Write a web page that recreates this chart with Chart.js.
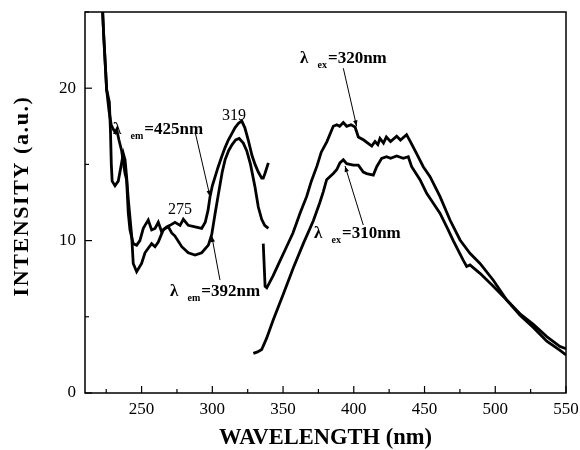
<!DOCTYPE html>
<html>
<head>
<meta charset="utf-8">
<script src="https://cdn.jsdelivr.net/npm/chart.js@4.4.1/dist/chart.umd.min.js"></script>
<style>
  html, body { margin: 0; padding: 0; background: #fff; }
  #wrap { width: 580px; height: 450px; }
</style>
</head>
<body>
<div id="wrap"><canvas id="chart" width="580" height="450"></canvas></div>
<script>
// ---------- data ----------
// excitation spectrum, monitored at 425 nm
const em425Nm = [222.0, 223.2, 225.3, 227.2, 228.0, 228.6, 229.2, 231.2, 233.5, 235.9, 237.1, 238.3, 239.4, 240.6, 243.0, 244.1, 246.5, 250.0, 252.4, 254.7, 257.1, 259.5, 261.8, 265.3, 267.7, 270.1, 273.6, 277.2, 279.5, 283.0, 287.8, 292.5, 295.0, 297.0, 298.4, 300.0, 302.0, 304.0, 306.6, 309.0, 311.3, 313.7, 316.0, 318.5, 320.8, 323.0, 325.4, 328.0, 330.2, 332.5, 334.9, 336.0, 337.2, 339.6];
const em425Int = [26, 23.5, 19.9, 19.1, 17.2, 15.0, 13.9, 13.6, 13.9, 15.1, 15.7, 15.3, 14.2, 12.7, 10.3, 8.5, 7.96, 8.5, 9.2, 9.5, 9.8, 9.6, 9.9, 10.7, 10.9, 11.0, 11.2, 11.0, 11.4, 11.0, 10.9, 10.8, 11.2, 12.0, 12.9, 13.6, 14.2, 14.8, 15.5, 16.1, 16.6, 17.0, 17.4, 17.7, 17.85, 17.4, 16.6, 15.6, 15.0, 14.5, 14.1, 14.1, 14.4, 15.1];

// excitation spectrum, monitored at 392 nm
const em392Nm = [222.0, 223.2, 225.3, 227.0, 228.5, 230.0, 231.5, 232.5, 234.0, 235.9, 237.0, 238.3, 239.4, 240.6, 241.8, 244.1, 246.5, 248.8, 251.2, 252.4, 254.7, 257.1, 259.5, 261.8, 264.1, 266.5, 268.9, 271.3, 273.6, 278.4, 283.0, 287.8, 292.5, 297.2, 299.6, 302.0, 304.2, 307.0, 309.0, 311.5, 314.0, 316.5, 319.0, 321.9, 324.3, 327.0, 330.2, 332.5, 334.9, 337.0, 339.6];
const em392Int = [26, 23.5, 19.9, 18.5, 17.6, 17.3, 17.1, 17.25, 16.6, 15.9, 15.2, 14.4, 14.0, 11.8, 10.7, 9.8, 9.7, 10.0, 10.8, 11.0, 11.35, 10.7, 10.8, 11.2, 10.6, 10.8, 10.9, 10.5, 10.3, 9.6, 9.2, 9.05, 9.2, 9.7, 10.4, 11.8, 13.0, 14.5, 15.3, 15.9, 16.3, 16.6, 16.7, 16.4, 15.9, 15.0, 13.5, 12.2, 11.4, 11.0, 10.8];

// emission spectrum, excited at 320 nm
const ex320Nm = [336.0, 337.3, 338.5, 343.0, 347.0, 352.0, 357.0, 362.0, 366.7, 370.0, 374.0, 377.0, 381.0, 385.5, 388.0, 390.0, 392.6, 395.0, 398.0, 400.9, 403.2, 407.0, 412.7, 415.0, 417.0, 418.5, 421.0, 423.0, 426.0, 430.3, 433.0, 437.3, 440.0, 444.4, 449.1, 453.9, 460.9, 468.0, 475.1, 482.1, 489.2, 498.6, 508.1, 517.5, 526.9, 536.4, 545.8, 550.0];
const ex320Int = [9.8, 7.0, 6.9, 7.7, 8.5, 9.5, 10.5, 11.8, 12.9, 13.9, 14.9, 15.8, 16.5, 17.5, 17.6, 17.5, 17.75, 17.5, 17.6, 17.45, 16.8, 16.6, 16.2, 16.5, 16.3, 16.7, 16.4, 16.8, 16.5, 16.85, 16.6, 16.95, 16.5, 15.7, 14.85, 14.2, 12.9, 11.35, 10.04, 9.17, 8.5, 7.4, 6.1, 5.2, 4.5, 3.7, 3.05, 2.9];

// emission spectrum, excited at 310 nm
const ex310Nm = [329.0, 332.0, 334.9, 338.4, 343.1, 350.2, 357.2, 364.3, 371.4, 376.0, 378.4, 380.8, 385.5, 387.9, 390.2, 392.6, 395.0, 399.7, 403.2, 406.7, 409.1, 413.8, 416.2, 419.7, 423.2, 426.0, 430.3, 435.0, 438.5, 440.9, 446.8, 451.5, 456.2, 460.9, 465.7, 470.3, 477.4, 479.8, 482.1, 489.2, 498.6, 508.1, 517.5, 526.9, 536.4, 545.8, 550.0];
const ex310Int = [2.6, 2.7, 2.85, 3.6, 4.8, 6.5, 8.2, 9.8, 11.3, 12.5, 13.2, 14.0, 14.4, 14.65, 15.1, 15.3, 15.05, 14.95, 14.95, 14.5, 14.4, 14.3, 14.85, 15.4, 15.5, 15.4, 15.55, 15.4, 15.5, 14.85, 14.0, 13.1, 12.45, 11.8, 10.9, 10.0, 8.7, 8.3, 8.4, 7.85, 7.0, 6.1, 5.1, 4.3, 3.4, 2.8, 2.5];

const xTicks = [250, 300, 350, 400, 450, 500, 550];
const xMinor = [225, 275, 325, 375, 425, 475, 525];
const yTicks = [0, 10, 20];
const yMinor = [5, 15, 25];

// ---------- annotations (data coords) ----------
const notes = [
  { sub: "em", rest: "=425nm", at: [229.8, 17.39], from: [287.8, 17.14], to: [298.4, 12.88] },
  { sub: "em", rest: "=392nm", at: [270.1, 6.76], from: [305.4, 7.41], to: [299.6, 10.3] },
  { sub: "ex", rest: "=320nm", at: [362.0, 22.07], from: [392.6, 21.31], to: [402.0, 17.5] },
  { sub: "ex", rest: "=310nm", at: [371.9, 10.58], from: [406.7, 11.02], to: [393.8, 14.9] },
];
const peakLabels = [
  { text: "319", at: [315.3, 18.2] },
  { text: "275", at: [277.2, 12.0] },
];

// ---------- helpers ----------
const serif = '"Liberation Serif", "Times New Roman", serif';
const toPoints = (xs, ys) => xs.map((x, i) => ({ x, y: ys[i] }));
const curve = (label, xs, ys) => ({
  label,
  data: toPoints(xs, ys),
  borderColor: "#000",
  borderWidth: 2.8,
  pointRadius: 0,
  tension: 0,
  fill: false,
});
const noPad = (ax) => {
  ax.paddingLeft = 0; ax.paddingRight = 0;
  ax.paddingTop = 0; ax.paddingBottom = 0;
};

function arrow(ctx, x1, y1, x2, y2) {
  ctx.beginPath();
  ctx.moveTo(x1, y1);
  ctx.lineTo(x2, y2);
  ctx.stroke();
  const a = Math.atan2(y2 - y1, x2 - x1);
  const len = 6, w = 2.2;
  ctx.beginPath();
  ctx.moveTo(x2, y2);
  ctx.lineTo(x2 - len * Math.cos(a) + w * Math.sin(a), y2 - len * Math.sin(a) - w * Math.cos(a));
  ctx.lineTo(x2 - len * Math.cos(a) - w * Math.sin(a), y2 - len * Math.sin(a) + w * Math.cos(a));
  ctx.closePath();
  ctx.fill();
}

// frame, inward ticks, y title and the text labels
const framePlugin = {
  id: "frame",
  afterDraw(chart) {
    const { ctx, chartArea: a, scales: { x, y } } = chart;
    ctx.save();
    ctx.strokeStyle = "#000";
    ctx.fillStyle = "#000";
    ctx.lineWidth = 1.5;
    ctx.strokeRect(a.left, a.top, a.right - a.left, a.bottom - a.top);

    ctx.lineWidth = 1.2;
    const tick = (x1, y1, x2, y2) => {
      ctx.beginPath(); ctx.moveTo(x1, y1); ctx.lineTo(x2, y2); ctx.stroke();
    };
    xTicks.forEach((v) => { const p = x.getPixelForValue(v); tick(p, a.bottom, p, a.bottom - 7); });
    xMinor.forEach((v) => { const p = x.getPixelForValue(v); tick(p, a.bottom, p, a.bottom - 4); });
    yTicks.forEach((v) => { const p = y.getPixelForValue(v); tick(a.left, p, a.left + 7, p); });
    yMinor.forEach((v) => { const p = y.getPixelForValue(v); tick(a.left, p, a.left + 4, p); });

    // y axis title (spaced out like the original lettering)
    ctx.save();
    ctx.translate(22, 196);
    ctx.rotate(-Math.PI / 2);
    ctx.font = "bold 22px " + serif;
    ctx.letterSpacing = "1.6px";
    ctx.textAlign = "center";
    ctx.textBaseline = "middle";
    ctx.fillText("INTENSITY (a.u.)", 0, 0);
    ctx.restore();

    // lambda labels
    ctx.textBaseline = "alphabetic";
    ctx.textAlign = "left";
    notes.forEach((n) => {
      const px = x.getPixelForValue(n.at[0]);
      const py = y.getPixelForValue(n.at[1]);
      ctx.font = "bold 17px " + serif;
      ctx.fillText("λ", px, py + 6);
      ctx.font = "bold 10px " + serif;
      ctx.fillText(n.sub, px + 17.5, py + 11);
      const sw = ctx.measureText(n.sub).width;
      ctx.font = "bold 17px " + serif;
      ctx.fillText(n.rest, px + 17.5 + sw + 1, py + 6);
      ctx.lineWidth = 1;
      arrow(ctx, x.getPixelForValue(n.from[0]), y.getPixelForValue(n.from[1]),
        x.getPixelForValue(n.to[0]), y.getPixelForValue(n.to[1]));
    });

    // peak positions
    ctx.font = "16px " + serif;
    ctx.textAlign = "center";
    ctx.textBaseline = "middle";
    peakLabels.forEach((p) => {
      ctx.fillText(p.text, x.getPixelForValue(p.at[0]), y.getPixelForValue(p.at[1]));
    });
    ctx.restore();
  },
};

// ---------- chart ----------
new Chart(document.getElementById("chart"), {
  type: "line",
  data: {
    datasets: [
      curve("λem=425nm", em425Nm, em425Int),
      curve("λem=392nm", em392Nm, em392Int),
      curve("λex=320nm", ex320Nm, ex320Int),
      curve("λex=310nm", ex310Nm, ex310Int),
    ],
  },
  options: {
    responsive: false,
    animation: false,
    devicePixelRatio: 1,
    layout: { padding: { top: 12, right: 14, left: 0, bottom: 0 } },
    plugins: { legend: { display: false }, tooltip: { enabled: false } },
    scales: {
      x: {
        type: "linear",
        min: 210,
        max: 550,
        afterBuildTicks: (ax) => { ax.ticks = xTicks.map((v) => ({ value: v })); },
        afterFit: (ax) => { ax.height = 57; noPad(ax); },
        grid: { display: false, drawTicks: false },
        border: { display: false },
        ticks: { color: "#000", font: { family: serif, size: 17 }, padding: 6, maxRotation: 0, autoSkip: false },
        title: {
          display: true,
          text: "WAVELENGTH (nm)",
          color: "#000",
          font: { family: serif, size: 22.5, weight: "bold", lineHeight: 1 },
          padding: { top: 0, bottom: 1 },
        },
      },
      y: {
        min: 0,
        max: 25,
        afterBuildTicks: (ax) => { ax.ticks = yTicks.map((v) => ({ value: v })); },
        afterFit: (ax) => { ax.width = 85; noPad(ax); },
        grid: { display: false, drawTicks: false },
        border: { display: false },
        ticks: { color: "#000", font: { family: serif, size: 17 }, padding: 9 },
      },
    },
  },
  plugins: [framePlugin],
});
</script>
</body>
</html>
